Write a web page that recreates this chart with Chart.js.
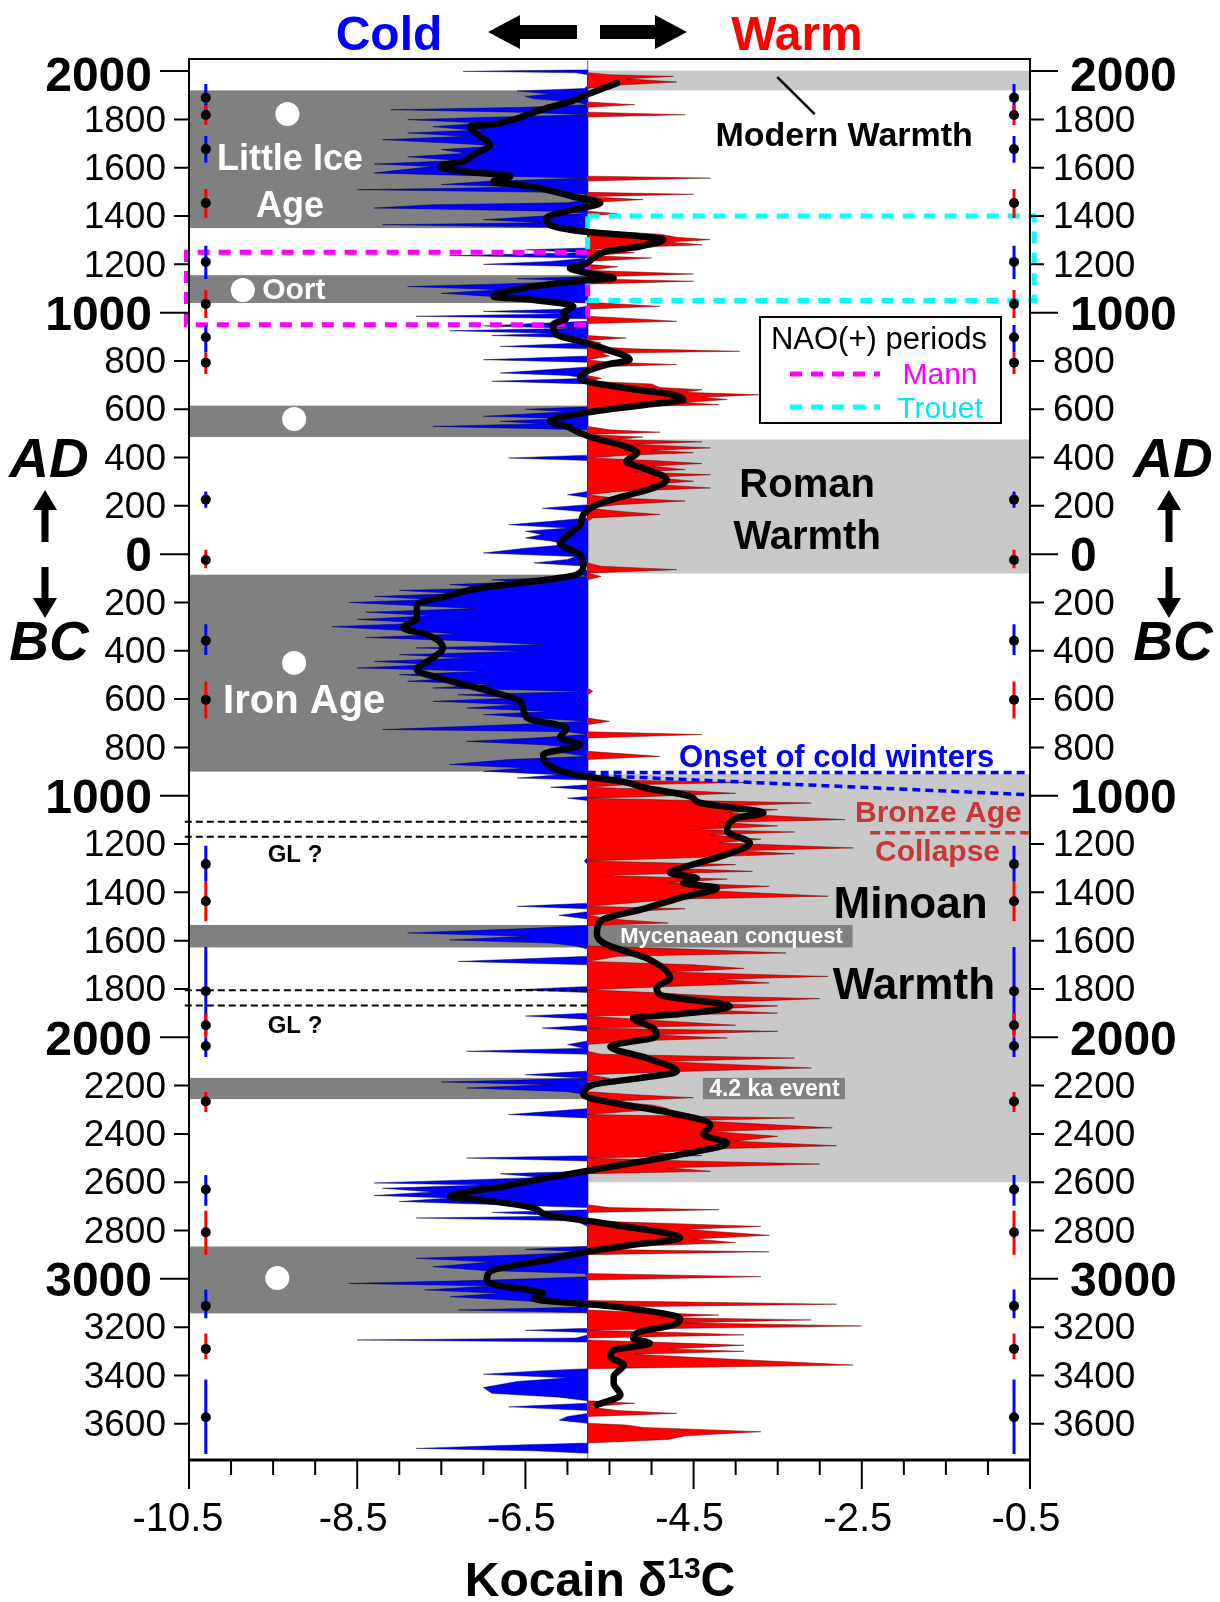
<!DOCTYPE html>
<html>
<head>
<meta charset="utf-8">
<script src="https://cdn.jsdelivr.net/npm/chart.js@4.4.1/dist/chart.umd.min.js"></script>
<style>
  html, body { margin: 0; padding: 0; background: #fff; }
  #wrap { width: 1220px; height: 1602px; }
</style>
</head>
<body>
<div id="wrap"><canvas id="chart" width="1220" height="1602"></canvas></div>
<script>
// Kocain cave d13C record, year AD (BC negative) vs value
const BASE = -5.76;

// high resolution record [year, d13C]
const hires = [
  [2005,-5.76],[1999,-7.24],[1993,-5.9],[1985,-5.5],[1978,-4.74],[1968,-5.3],[1955,-4.7],[1940,-5.5],[1928,-5.8],[1918,-6.6],
  [1905,-6.2],[1895,-6.5],[1885,-6.4],[1872,-5.9],[1861,-5.2],[1850,-6.5],[1840,-8.1],[1830,-6.6],[1819,-4.6],[1810,-6.8],
  [1799,-7.9],[1785,-7.0],[1770,-7.6],[1755,-7.1],[1744,-7.9],[1730,-7.2],[1716,-8.2],[1700,-7.3],[1690,-6.8],[1675,-7.5],
  [1660,-7.2],[1645,-7.9],[1630,-7.3],[1615,-8.3],[1605,-7.6],[1590,-8.0],[1578,-8.3],[1565,-6.9],[1557,-4.3],[1545,-6.9],
  [1530,-7.5],[1520,-6.5],[1509,-8.5],[1498,-6.2],[1490,-4.5],[1480,-5.9],[1468,-5.1],[1455,-6.0],[1447,-7.6],[1433,-8.3],
  [1420,-6.2],[1410,-5.4],[1400,-6.3],[1385,-7.0],[1372,-6.3],[1364,-8.2],[1352,-6.0],[1340,-5.76],[1325,-4.9],[1312,-4.7],
  [1302,-4.3],[1292,-4.8],[1281,-4.4],[1268,-5.4],[1260,-6.5],[1248,-5.2],[1236,-7.4],[1226,-5.0],[1212,-6.2],[1200,-7.0],
  [1190,-5.4],[1175,-6.0],[1160,-4.5],[1150,-5.5],[1140,-6.6],[1130,-4.5],[1118,-6.9],[1108,-7.9],[1095,-6.8],[1080,-7.5],
  [1067,-6.9],[1055,-6.8],[1040,-5.6],[1026,-4.9],[1015,-6.0],[1005,-7.0],[995,-6.0],[985,-7.8],[975,-5.2],[964,-4.7],
  [955,-6.4],[945,-7.0],[935,-5.9],[925,-7.4],[915,-6.2],[905,-6.9],[895,-5.3],[885,-6.0],[875,-5.6],[860,-6.8],
  [850,-5.2],[840,-3.95],[832,-5.6],[820,-5.5],[805,-7.0],[795,-5.5],[785,-4.7],[775,-5.7],[762,-6.3],[750,-6.8],
  [740,-6.0],[728,-5.6],[716,-6.9],[705,-5.0],[690,-4.9],[681,-4.4],[670,-4.6],[660,-3.7],[650,-4.4],[640,-4.1],
  [628,-4.6],[619,-4.2],[610,-5.3],[600,-6.5],[590,-6.0],[580,-6.5],[571,-7.0],[562,-6.0],[550,-6.8],[540,-6.3],
  [529,-7.6],[515,-5.5],[505,-4.9],[495,-5.8],[485,-5.1],[475,-5.4],[465,-4.4],[455,-5.2],[440,-4.3],[430,-5.0],
  [420,-4.5],[410,-5.3],[398,-6.7],[388,-5.0],[375,-4.4],[365,-5.0],[350,-4.6],[340,-5.2],[329,-4.3],[318,-5.0],
  [302,-4.5],[290,-5.0],[274,-4.3],[260,-5.4],[246,-6.0],[235,-5.5],[220,-4.6],[205,-5.4],[190,-6.3],[175,-5.3],
  [164,-4.9],[150,-5.7],[136,-6.2],[122,-6.7],[108,-6.0],[95,-6.5],[81,-6.3],[67,-6.5],[55,-6.2],[40,-6.0],
  [25,-6.5],[5,-7.0],[-10,-5.9],[-22,-6.0],[-36,-6.4],[-50,-5.6],[-64,-4.7],[-78,-5.9],[-92,-5.6],[-106,-6.9],
  [-115,-6.6],[-126,-7.4],[-140,-6.9],[-150,-8.0],[-163,-7.3],[-175,-8.3],[-188,-7.6],[-200,-8.6],[-213,-7.8],[-225,-7.1],
  [-240,-8.4],[-255,-7.6],[-270,-8.5],[-285,-7.7],[-300,-8.8],[-315,-8.0],[-330,-7.3],[-345,-8.4],[-360,-7.1],[-375,-6.3],
  [-388,-7.8],[-402,-6.5],[-416,-8.0],[-430,-7.2],[-444,-8.3],[-457,-7.6],[-471,-8.5],[-485,-7.0],[-499,-8.0],[-513,-7.3],
  [-526,-7.9],[-540,-6.9],[-554,-7.6],[-568,-5.7],[-582,-7.3],[-595,-6.6],[-609,-7.6],[-623,-6.6],[-637,-7.2],[-651,-6.2],
  [-664,-7.0],[-678,-6.4],[-692,-5.5],[-706,-6.7],[-726,-8.2],[-735,-6.0],[-747,-4.4],[-761,-6.4],[-775,-7.2],[-789,-6.3],
  [-802,-5.8],[-816,-6.2],[-837,-4.9],[-850,-6.7],[-871,-7.4],[-885,-6.5],[-899,-7.0],[-913,-6.1],[-927,-6.6],[-935,-5.5],
  [-945,-3.9],[-955,-5.3],[-965,-6.2],[-975,-4.8],[-990,-4.0],[-1003,-5.0],[-1010,-6.0],[-1020,-4.5],[-1030,-3.1],[-1045,-4.3],
  [-1058,-3.5],[-1070,-4.1],[-1082,-3.6],[-1099,-2.7],[-1110,-4.2],[-1125,-3.5],[-1140,-4.5],[-1150,-3.3],[-1162,-4.3],[-1180,-3.7],
  [-1195,-4.2],[-1216,-2.6],[-1228,-4.0],[-1240,-3.3],[-1255,-4.4],[-1270,-5.8],[-1285,-4.0],[-1300,-4.8],[-1313,-3.8],[-1330,-5.6],
  [-1345,-4.1],[-1360,-4.8],[-1375,-3.6],[-1390,-4.5],[-1416,-2.9],[-1428,-4.7],[-1445,-5.3],[-1458,-6.6],[-1468,-4.6],[-1480,-5.3],
  [-1495,-6.1],[-1510,-5.5],[-1527,-4.8],[-1537,-5.76],[-1550,-6.5],[-1568,-7.9],[-1582,-6.5],[-1597,-7.4],[-1610,-6.2],[-1622,-5.9],
  [-1635,-4.6],[-1651,-3.4],[-1665,-5.4],[-1686,-7.3],[-1700,-4.5],[-1715,-3.9],[-1730,-4.8],[-1748,-2.9],[-1760,-4.2],[-1775,-3.6],
  [-1790,-4.8],[-1803,-6.6],[-1815,-5.0],[-1830,-4.2],[-1840,-3.0],[-1858,-4.4],[-1870,-3.5],[-1885,-4.4],[-1900,-3.5],[-1912,-6.5],
  [-1925,-5.2],[-1950,-4.0],[-1962,-6.3],[-1975,-3.5],[-1990,-5.0],[-2003,-4.1],[-2015,-5.2],[-2030,-6.0],[-2045,-5.8],[-2058,-7.2],
  [-2070,-5.6],[-2086,-3.3],[-2100,-4.9],[-2127,-3.1],[-2140,-4.5],[-2155,-6.5],[-2170,-5.5],[-2185,-7.5],[-2196,-6.2],[-2210,-7.2],
  [-2225,-6.0],[-2238,-5.2],[-2250,-4.5],[-2265,-5.5],[-2280,-5.0],[-2295,-4.8],[-2320,-6.7],[-2334,-3.3],[-2345,-4.5],[-2375,-2.85],
  [-2390,-4.3],[-2410,-3.5],[-2430,-4.0],[-2449,-2.8],[-2460,-4.1],[-2478,-5.0],[-2490,-4.4],[-2500,-7.2],[-2512,-4.6],[-2525,-3.0],
  [-2540,-4.8],[-2555,-4.3],[-2565,-6.8],[-2580,-6.3],[-2603,-8.3],[-2612,-7.0],[-2625,-8.2],[-2640,-7.6],[-2655,-8.3],[-2665,-7.4],
  [-2680,-8.0],[-2693,-6.8],[-2705,-5.5],[-2714,-4.2],[-2725,-6.9],[-2740,-6.0],[-2748,-7.8],[-2760,-5.9],[-2783,-3.7],[-2795,-4.6],
  [-2805,-4.2],[-2820,-3.6],[-2835,-4.5],[-2850,-4.0],[-2865,-5.2],[-2878,-6.5],[-2888,-3.6],[-2900,-6.5],[-2915,-7.8],[-2930,-6.9],
  [-2950,-7.6],[-2965,-7.0],[-2978,-5.8],[-2991,-3.7],[-3005,-6.9],[-3019,-8.6],[-3030,-6.9],[-3046,-7.7],[-3060,-6.8],[-3074,-7.4],
  [-3090,-6.6],[-3105,-2.8],[-3118,-5.9],[-3129,-7.3],[-3140,-5.0],[-3150,-4.2],[-3160,-4.9],[-3170,-3.1],[-3182,-4.6],[-3195,-2.5],
  [-3205,-4.6],[-3213,-6.5],[-3222,-4.7],[-3232,-3.9],[-3245,-5.9],[-3253,-8.5],[-3262,-5.0],[-3275,-3.9],[-3290,-4.8],[-3300,-3.9],
  [-3312,-5.2],[-3325,-4.5],[-3340,-3.6],[-3357,-2.6],[-3372,-5.76],[-3380,-6.3],[-3395,-7.0],[-3410,-6.0],[-3425,-6.6],[-3450,-7.0],
  [-3474,-6.9],[-3490,-6.1],[-3505,-5.76],[-3515,-5.2],[-3530,-6.7],[-3545,-5.4],[-3557,-4.7],[-3570,-6.0],[-3585,-6.1],[-3598,-5.76],
  [-3605,-5.3],[-3615,-5.1],[-3633,-3.7],[-3650,-4.6],[-3665,-4.8],[-3680,-5.76],[-3690,-6.8],[-3702,-7.8],[-3712,-6.4],[-3722,-5.76]
];

// smoothed record [year, d13C]
const smooth = [
  [1950,-5.41],[1902,-5.77],[1868,-6.01],[1847,-6.25],[1819,-6.48],[1799,-6.64],[1778,-6.92],[1771,-7.16],[1730,-7.04],[1695,-6.92],
  [1654,-7.12],[1626,-7.24],[1605,-7.52],[1585,-7.24],[1564,-6.68],[1543,-6.88],[1523,-6.44],[1502,-6.17],[1474,-5.85],[1454,-5.61],
  [1426,-5.93],[1392,-6.25],[1364,-6.21],[1336,-5.81],[1316,-5.14],[1302,-4.86],[1274,-5.14],[1254,-5.53],[1226,-5.69],[1198,-5.81],
  [1185,-5.97],[1164,-5.77],[1143,-5.45],[1136,-5.69],[1116,-6.25],[1088,-6.72],[1067,-6.88],[1054,-6.44],[1026,-5.93],[999,-6.05],
  [978,-6.01],[950,-6.17],[909,-6.13],[881,-5.85],[847,-5.53],[805,-5.26],[785,-5.53],[757,-5.77],[729,-5.85],[709,-5.69],
  [681,-5.17],[660,-4.74],[640,-4.62],[619,-5.06],[591,-5.69],[550,-6.21],[529,-6.01],[502,-5.85],[481,-5.69],[453,-5.37],
  [419,-5.17],[384,-5.30],[357,-5.10],[309,-4.82],[274,-4.98],[239,-5.34],[205,-5.65],[164,-5.81],[122,-5.85],[74,-6.01],
  [46,-6.09],[-2,-5.85],[-43,-5.81],[-85,-5.89],[-106,-6.25],[-140,-7.04],[-175,-7.44],[-209,-7.79],[-264,-7.79],[-306,-7.95],
  [-333,-7.67],[-388,-7.48],[-430,-7.60],[-478,-7.79],[-520,-7.44],[-568,-6.92],[-609,-6.56],[-678,-6.48],[-720,-6.01],[-761,-6.09],
  [-789,-5.85],[-830,-6.29],[-885,-6.17],[-913,-5.89],[-927,-5.65],[-940,-5.37],[-968,-5.06],[-1003,-4.54],[-1030,-4.42],[-1072,-3.67],
  [-1092,-3.99],[-1147,-4.10],[-1196,-3.83],[-1251,-4.18],[-1292,-4.58],[-1320,-4.78],[-1341,-4.46],[-1361,-4.62],[-1382,-4.22],[-1423,-4.66],
  [-1465,-5.06],[-1520,-5.61],[-1575,-5.65],[-1617,-5.53],[-1672,-5.06],[-1755,-4.78],[-1796,-4.94],[-1824,-4.90],[-1872,-4.07],[-1906,-4.74],
  [-1920,-5.22],[-1962,-4.98],[-1996,-4.94],[-2038,-5.49],[-2086,-5.06],[-2141,-4.70],[-2169,-5.14],[-2196,-5.69],[-2238,-5.81],[-2272,-5.45],
  [-2307,-4.86],[-2362,-4.30],[-2403,-4.38],[-2438,-4.10],[-2486,-4.66],[-2534,-5.45],[-2583,-6.25],[-2617,-6.76],[-2659,-7.40],[-2672,-7.04],
  [-2707,-6.40],[-2734,-6.25],[-2776,-5.45],[-2831,-4.66],[-2859,-5.22],[-2888,-5.77],[-2922,-6.25],[-2970,-6.92],[-3005,-6.96],[-3026,-6.84],
  [-3060,-6.29],[-3081,-6.40],[-3115,-5.45],[-3143,-4.86],[-3164,-4.66],[-3191,-4.74],[-3219,-5.14],[-3246,-5.22],[-3267,-5.02],[-3295,-5.45],
  [-3322,-5.49],[-3357,-5.33],[-3405,-5.45],[-3433,-5.45],[-3481,-5.37],[-3522,-5.65]
];

// age model dates with error ranges
const errYear  = [1890, 1818, 1677, 1454, 1210, 1036, 898, 793, 226, -24, -358, -603, -1283, -1437, -1809, -1950, -2036, -2266, -2630, -2807, -3112, -3290, -3573];
const errHi    = [1946, 1860, 1731, 1512, 1277, 1094, 949, 835, 260, 18, -290, -527, -1207, -1356, -1626, -1900, -2000, -2226, -2570, -2718, -3044, -3226, -3417];
const errLo    = [1834, 1777, 1621, 1392, 1139, 978, 835, 746, 192, -58, -417, -680, -1356, -1519, -1990, -2000, -2082, -2309, -2697, -2900, -3163, -3332, -3725];
const errColor = ["b","r","b","r","b","r","b","r","b","r","b","r","b","r","b","r","b","r","b","r","b","r","b"];
const errX = [-10.3, -0.69];

// shaded periods [from year, to year]
const coldBands = [[1920,1350],[1155,1040],[615,485],[-85,-900],[-1535,-1628],[-2168,-2256],[-2866,-3143]];
const warmBands = [[2002,1920],[475,-80],[-910,-2600]];

// NAO(+) periods and other marked years
const mannPeriod = [1250, 950];
const trouetPeriod = [1400, 1050];
const glYears = [-1108, -1170, -1805, -1868];

const yTicks = [2000,1800,1600,1400,1200,1000,800,600,400,200,0,-200,-400,-600,-800,-1000,-1200,-1400,-1600,-1800,
                -2000,-2200,-2400,-2600,-2800,-3000,-3200,-3400,-3600];
const xTicks = [-10.5, -8.5, -6.5, -4.5, -2.5, -0.5];

const FONT = "'Liberation Sans', Arial, sans-serif";
const BLUE = "#0000ff", RED = "#ff0000", BRONZE = "#c83737";

const pts = arr => arr.map(([y, v]) => ({ x: v, y }));
const coldSeries = hires.map(([y, v]) => ({ x: Math.min(v, BASE), y }));
const warmSeries = hires.map(([y, v]) => ({ x: Math.max(v, BASE), y }));

function errSegments(col) {
  const out = [];
  errX.forEach(x => {
    errYear.forEach((yr, i) => {
      if (errColor[i] !== col) return;
      out.push({ x, y: errHi[i] }, { x, y: errLo[i] }, { x: null, y: errLo[i] });
    });
  });
  return out;
}
const errDots = [];
errX.forEach(x => errYear.forEach(y => errDots.push({ x, y })));

const glSeries = [];
glYears.forEach(y => glSeries.push({ x: -10.55, y }, { x: BASE, y }, { x: null, y }));

const lineDs = (data, color, width, dash, order, extra) => Object.assign({
  data, borderColor: color, borderWidth: width, borderDash: dash || [], pointRadius: 0,
  fill: false, order, clip: false, spanGaps: false, tension: 0
}, extra || {});

// bands and label boxes under the data
const bandsPlugin = {
  id: "bands",
  beforeDatasetsDraw(chart) {
    const { ctx, chartArea: a, scales: { x, y } } = chart;
    const bx = x.getPixelForValue(BASE);
    ctx.save();
    ctx.beginPath();
    ctx.rect(a.left, a.top, a.right - a.left, a.bottom - a.top);
    ctx.clip();
    ctx.fillStyle = "#c8c8c8";
    warmBands.forEach(([y0, y1]) => {
      const p0 = y.getPixelForValue(y0), p1 = y.getPixelForValue(y1);
      ctx.fillRect(bx, p0, a.right - bx, p1 - p0);
    });
    ctx.fillStyle = "#808080";
    coldBands.forEach(([y0, y1]) => {
      const p0 = y.getPixelForValue(y0), p1 = y.getPixelForValue(y1);
      ctx.fillRect(a.left, p0, bx - a.left, p1 - p0);
    });
    // Mycenaean conquest and 4.2 ka event label boxes
    let p0 = y.getPixelForValue(-1535), p1 = y.getPixelForValue(-1628);
    ctx.fillRect(bx, p0, x.getPixelForValue(-2.61) - bx, p1 - p0);
    p0 = y.getPixelForValue(-2168); p1 = y.getPixelForValue(-2256);
    const l = x.getPixelForValue(-4.39);
    ctx.fillRect(l, p0, x.getPixelForValue(-2.70) - l, p1 - p0);
    ctx.restore();
  }
};

function txt(ctx, s, px, py, font, color, align) {
  ctx.font = font;
  ctx.fillStyle = color;
  ctx.textAlign = align || "center";
  ctx.textBaseline = "alphabetic";
  ctx.fillText(s, px, py);
}

function arrowH(ctx, x0, x1, yc) {
  // x0 = tip
  const dir = x1 > x0 ? 1 : -1;
  const head = 32, hh = 17, sh = 7;
  ctx.beginPath();
  ctx.moveTo(x0, yc);
  ctx.lineTo(x0 + dir * head, yc - hh);
  ctx.lineTo(x0 + dir * head, yc - sh);
  ctx.lineTo(x1, yc - sh);
  ctx.lineTo(x1, yc + sh);
  ctx.lineTo(x0 + dir * head, yc + sh);
  ctx.lineTo(x0 + dir * head, yc + hh);
  ctx.closePath();
  ctx.fill();
}
function arrowV(ctx, xc, y0, y1) {
  // y0 = tip
  const dir = y1 > y0 ? 1 : -1;
  const head = 20, hw = 12, sw = 3.5;
  ctx.beginPath();
  ctx.moveTo(xc, y0);
  ctx.lineTo(xc + hw, y0 + dir * head);
  ctx.lineTo(xc + sw, y0 + dir * head);
  ctx.lineTo(xc + sw, y1);
  ctx.lineTo(xc - sw, y1);
  ctx.lineTo(xc - sw, y0 + dir * head);
  ctx.lineTo(xc - hw, y0 + dir * head);
  ctx.closePath();
  ctx.fill();
}

const decorPlugin = {
  id: "decor",
  afterDatasetsDraw(chart) {
    const { ctx, scales: { x, y } } = chart;
    const P = (v, yr) => [x.getPixelForValue(v), y.getPixelForValue(yr)];
    ctx.save();
    // white dots
    ctx.fillStyle = "#fff";
    [[-9.33, 1822], [-9.86, 1094], [-9.25, 560], [-9.25, -450], [-9.45, -2997]].forEach(([v, yr]) => {
      const [px, py] = P(v, yr);
      ctx.beginPath(); ctx.arc(px, py, 12, 0, Math.PI * 2); ctx.fill();
    });
    const W = "#fff", K = "#000";
    let p;
    p = P(-9.30, 1590); txt(ctx, "Little Ice", p[0], p[1], `bold 36px ${FONT}`, W);
    p = P(-9.30, 1396); txt(ctx, "Age", p[0], p[1], `bold 36px ${FONT}`, W);
    p = P(-9.63, 1056); txt(ctx, "Oort", p[0], p[1], `bold 30px ${FONT}`, W, "left");
    p = P(-9.13, -657); txt(ctx, "Iron Age", p[0], p[1], `bold 40px ${FONT}`, W);
    p = P(-2.71, 1690); txt(ctx, "Modern Warmth", p[0], p[1], `bold 34px ${FONT}`, K);
    p = P(-3.15, 237); txt(ctx, "Roman", p[0], p[1], `bold 40px ${FONT}`, K);
    p = P(-3.15, 21); txt(ctx, "Warmth", p[0], p[1], `bold 40px ${FONT}`, K);
    p = P(-1.92, -1506); txt(ctx, "Minoan", p[0], p[1], `bold 44px ${FONT}`, K);
    p = P(-1.88, -1841); txt(ctx, "Warmth", p[0], p[1], `bold 44px ${FONT}`, K);
    p = P(-2.80, -881); txt(ctx, "Onset of cold winters", p[0], p[1], `bold 31px ${FONT}`, BLUE);
    p = P(-1.59, -1109); txt(ctx, "Bronze Age", p[0], p[1], `bold 30px ${FONT}`, BRONZE);
    p = P(-1.60, -1270); txt(ctx, "Collapse", p[0], p[1], `bold 30px ${FONT}`, BRONZE);
    p = P(-9.24, -1274); txt(ctx, "GL ?", p[0], p[1], `bold 24px ${FONT}`, K);
    p = P(-9.24, -1982); txt(ctx, "GL ?", p[0], p[1], `bold 24px ${FONT}`, K);
    p = P(-4.05, -1610); txt(ctx, "Mycenaean conquest", p[0], p[1], `bold 22px ${FONT}`, W);
    p = P(-3.54, -2243); txt(ctx, "4.2 ka event", p[0], p[1], `bold 23px ${FONT}`, W);

    // legend box
    ctx.fillStyle = "#fff";
    ctx.fillRect(760, 317, 241, 106);
    ctx.strokeStyle = "#000"; ctx.lineWidth = 2;
    ctx.strokeRect(760, 317, 241, 106);
    txt(ctx, "NAO(+) periods", 879, 349, `31px ${FONT}`, K);
    ctx.lineWidth = 5;
    ctx.setLineDash([12, 9]);
    ctx.strokeStyle = "#ff00ff";
    ctx.beginPath(); ctx.moveTo(790, 374); ctx.lineTo(880, 374); ctx.stroke();
    ctx.strokeStyle = "#00ffff";
    ctx.beginPath(); ctx.moveTo(790, 407); ctx.lineTo(880, 407); ctx.stroke();
    ctx.setLineDash([]);
    txt(ctx, "Mann", 940, 384, `30px ${FONT}`, "#ff00ff");
    txt(ctx, "Trouet", 940, 418, `30px ${FONT}`, "#00e8ee");
    ctx.restore();
  },
  afterDraw(chart) {
    const { ctx, chartArea: a, scales: { x, y } } = chart;
    ctx.save();
    // frame
    ctx.strokeStyle = "#000";
    ctx.lineWidth = 2;
    ctx.strokeRect(a.left, a.top, a.right - a.left, a.bottom - a.top);
    ctx.lineWidth = 3;
    ctx.beginPath(); ctx.moveTo(a.left - 1, a.bottom); ctx.lineTo(a.right + 1, a.bottom); ctx.stroke();

    // y ticks both sides
    ctx.fillStyle = "#000";
    ctx.lineWidth = 2;
    yTicks.forEach(t => {
      const py = y.getPixelForValue(t);
      const major = t % 1000 === 0;
      ctx.beginPath();
      ctx.moveTo(a.left - (major ? 29 : 15), py); ctx.lineTo(a.left, py);
      ctx.moveTo(a.right, py); ctx.lineTo(a.right + (major ? 28 : 14), py);
      ctx.stroke();
      const label = String(Math.abs(t));
      ctx.font = major ? `bold 48px ${FONT}` : `37px ${FONT}`;
      ctx.textBaseline = "middle";
      const off = t === 2000 ? 7 : (major ? 4 : 2);
      ctx.textAlign = "right";
      ctx.fillText(label, major ? 152 : 166, py + off);
      ctx.textAlign = "left";
      ctx.fillText(label, major ? 1070 : 1053, py + off);
    });

    // x ticks
    for (let v = -10.5; v <= -0.5 + 1e-9; v += 0.5) {
      const px = x.getPixelForValue(v);
      const major = xTicks.some(t => Math.abs(t - v) < 1e-9);
      ctx.beginPath(); ctx.moveTo(px, a.bottom); ctx.lineTo(px, a.bottom + (major ? 29 : 15)); ctx.stroke();
    }
    ctx.font = `40px ${FONT}`;
    ctx.textAlign = "center";
    ctx.textBaseline = "middle";
    xTicks.forEach(t => ctx.fillText(String(t), x.getPixelForValue(t) - (t === -10.5 ? 11 : 4), 1520));

    // x title
    ctx.textBaseline = "alphabetic";
    ctx.textAlign = "left";
    const f1 = `bold 48px ${FONT}`, f2 = `bold 30px ${FONT}`;
    ctx.font = f1; const w1 = ctx.measureText("Kocain \u03b4").width;
    ctx.font = f2; const w2 = ctx.measureText("13").width;
    ctx.font = f1; const w3 = ctx.measureText("C").width;
    let sx = 600 - (w1 + w2 + w3) / 2;
    ctx.font = f1; ctx.fillText("Kocain \u03b4", sx, 1596);
    ctx.font = f2; ctx.fillText("13", sx + w1, 1578);
    ctx.font = f1; ctx.fillText("C", sx + w1 + w2, 1596);

    // top title
    txt(ctx, "Cold", 389, 50, `bold 48px ${FONT}`, BLUE);
    txt(ctx, "Warm", 797, 50, `bold 48px ${FONT}`, RED);
    ctx.fillStyle = "#000";
    arrowH(ctx, 488, 577, 32);
    arrowH(ctx, 687, 600, 32);

    // AD / BC
    ["left", "right"].forEach(side => {
      const cx = side === "left" ? 49 : 1173;
      txt(ctx, "AD", cx, 477, `italic bold 55px ${FONT}`, "#000");
      txt(ctx, "BC", cx, 660, `italic bold 55px ${FONT}`, "#000");
      ctx.fillStyle = "#000";
      arrowV(ctx, cx - 4, 490, 542);
      arrowV(ctx, cx - 4, 618, 567);
    });
    ctx.restore();
  }
};

new Chart(document.getElementById("chart"), {
  type: "line",
  data: {
    datasets: [
      lineDs(errDots, "#000", 0, null, 1, { showLine: false, pointRadius: 5, pointBackgroundColor: "#000", pointBorderWidth: 0 }),
      lineDs(errSegments("r"), RED, 3, null, 2),
      lineDs(errSegments("b"), BLUE, 3, null, 2.5),
      lineDs(pts(smooth), "#000", 6.5, null, 3, { cubicInterpolationMode: "monotone", borderCapStyle: "round", borderJoinStyle: "round", clip: undefined }),
      lineDs([{ x: BASE, y: mannPeriod[0] }, { x: -10.53, y: mannPeriod[0] }, { x: -10.53, y: mannPeriod[1] }, { x: BASE, y: mannPeriod[1] }, { x: BASE, y: mannPeriod[0] }],
        "#ff00ff", 5, [12, 9], 4),
      lineDs([{ x: BASE, y: trouetPeriod[0] }, { x: -0.45, y: trouetPeriod[0] }, { x: -0.45, y: trouetPeriod[1] }, { x: BASE, y: trouetPeriod[1] }, { x: BASE, y: trouetPeriod[0] }],
        "#00ffff", 5, [12, 9], 4),
      lineDs(glSeries, "#000", 2, [7, 4], 4),
      lineDs([{ x: BASE, y: -904 }, { x: -0.5, y: -904 }, { x: null, y: -904 }, { x: BASE, y: -915 }, { x: -0.5, y: -996 }], BLUE, 3.5, [8, 5], 4),
      lineDs([{ x: -2.4, y: -1153 }, { x: -0.5, y: -1153 }], BRONZE, 3.5, [10, 5], 4),
      lineDs([{ x: -3.505, y: 1975 }, { x: -3.06, y: 1822 }], "#000", 2.5, null, 4),
      lineDs(warmSeries, "rgba(60,0,0,0.55)", 0.8, null, 5, { backgroundColor: RED, fill: { value: BASE }, clip: undefined }),
      lineDs(coldSeries, "rgba(0,0,50,0.55)", 0.8, null, 5, { backgroundColor: BLUE, fill: { value: BASE }, clip: undefined }),
      lineDs([{ x: BASE, y: 2050 }, { x: BASE, y: -3750 }], "#8c8c8c", 1, null, 6)
    ]
  },
  options: {
    responsive: false,
    animation: false,
    devicePixelRatio: 1,
    indexAxis: "y",
    layout: { padding: { left: 189, right: 190, top: 59, bottom: 142 } },
    scales: {
      x: { type: "linear", min: -10.5, max: -0.5, display: false },
      y: { type: "linear", min: -3750, max: 2050, display: false }
    },
    plugins: { legend: { display: false }, tooltip: { enabled: false } }
  },
  plugins: [bandsPlugin, decorPlugin]
});
</script>
</body>
</html>
